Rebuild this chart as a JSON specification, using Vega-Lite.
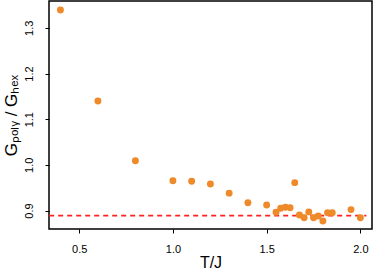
{
  "$schema": "https://vega.github.io/schema/vega-lite/v6.json",
  "width": 323,
  "height": 228,
  "autosize": {"type": "none"},
  "padding": {"left": 49, "top": 1, "right": 1, "bottom": 42},
  "background": "white",
  "config": {
    "view": {"stroke": "black", "strokeWidth": 1.5},
    "font": "Liberation Sans",
    "axis": {
      "grid": false,
      "domain": false,
      "tickColor": "black",
      "tickSize": 4,
      "tickWidth": 1,
      "labelColor": "black",
      "titleColor": "black",
      "labelFont": "Liberation Sans",
      "titleFont": "Liberation Sans",
      "labelFontSize": 11,
      "titleFontSize": 17,
      "titleFontWeight": "normal"
    }
  },
  "datasets": {
    "pts": [
      {"T": 0.4, "G": 1.339},
      {"T": 0.6, "G": 1.140},
      {"T": 0.8, "G": 1.009},
      {"T": 1.0, "G": 0.965},
      {"T": 1.1, "G": 0.964},
      {"T": 1.2, "G": 0.958},
      {"T": 1.3, "G": 0.938},
      {"T": 1.4, "G": 0.917},
      {"T": 1.5, "G": 0.912},
      {"T": 1.55, "G": 0.896},
      {"T": 1.575, "G": 0.905},
      {"T": 1.6, "G": 0.907},
      {"T": 1.625, "G": 0.906},
      {"T": 1.65, "G": 0.961},
      {"T": 1.675, "G": 0.890},
      {"T": 1.7, "G": 0.884},
      {"T": 1.725, "G": 0.897},
      {"T": 1.75, "G": 0.884},
      {"T": 1.775, "G": 0.888},
      {"T": 1.8, "G": 0.877},
      {"T": 1.825, "G": 0.895},
      {"T": 1.85, "G": 0.895},
      {"T": 1.95, "G": 0.902},
      {"T": 2.0, "G": 0.884}
    ],
    "ref": [{"x1": 0.34, "x2": 2.032, "y": 0.889}]
  },
  "layer": [
    {
      "data": {"name": "ref"},
      "mark": {"type": "rule", "color": "#FF2020", "strokeWidth": 1.8, "strokeDash": [5, 4]},
      "encoding": {
        "x": {"field": "x1", "type": "quantitative"},
        "x2": {"field": "x2"},
        "y": {"field": "y", "type": "quantitative"}
      }
    },
    {
      "data": {"name": "pts"},
      "mark": {"type": "circle", "color": "#EE8A2A", "opacity": 1, "size": 48},
      "encoding": {
        "x": {
          "field": "T", "type": "quantitative",
          "scale": {"domain": [0.339, 2.062], "nice": false, "zero": false},
          "axis": {"values": [0.5, 1.0, 1.5, 2.0], "format": ".1f", "title": "T/J", "labelPadding": 10, "titlePadding": 0, "titleFontSize": 16}
        },
        "y": {
          "field": "G", "type": "quantitative",
          "scale": {"domain": [0.8595, 1.3588], "nice": false, "zero": false},
          "axis": {"values": [0.9, 1.0, 1.1, 1.2, 1.3], "format": ".1f", "title": "Gₚₒₗᵧ / Gₕₑₓ",
                   "labelAngle": 270, "labelAlign": "center", "labelBaseline": "bottom", "labelPadding": 11, "titlePadding": 3}
        }
      }
    }
  ]
}
